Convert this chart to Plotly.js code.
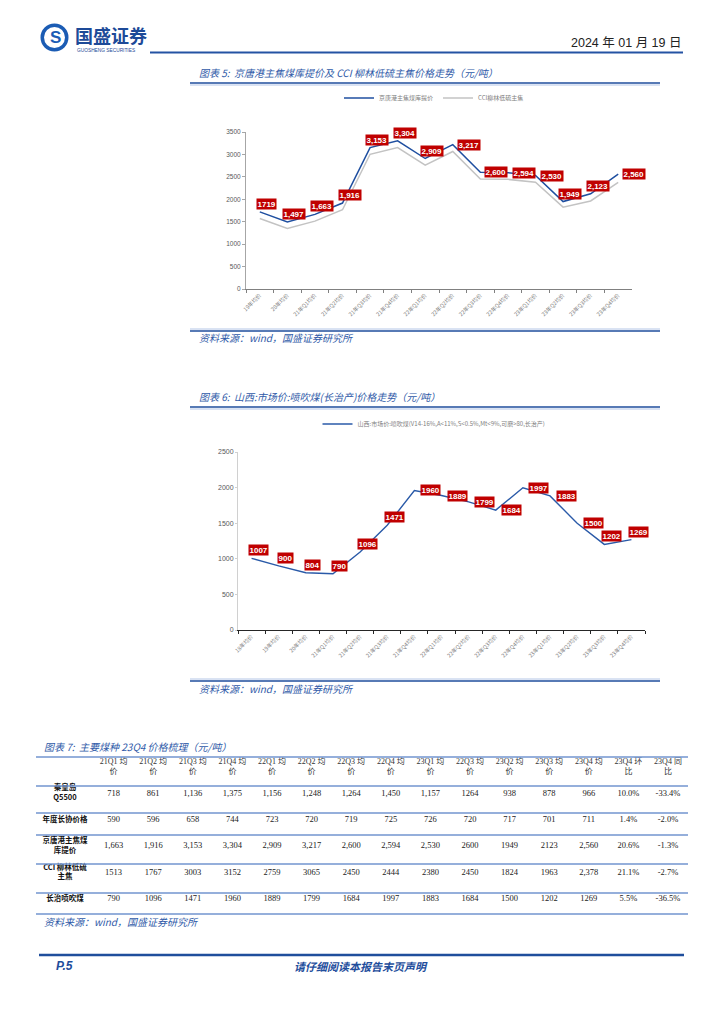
<!DOCTYPE html>
<html><head><meta charset="utf-8">
<script src="https://cdn.plot.ly/plotly-3.0.1.min.js"></script>
<style>html,body{margin:0;padding:0;background:#fff;}#page{width:724px;height:1024px;}</style>
</head><body><div id="page"></div>
<script>
// ---------- Chart 5 data ----------
const cats1 = ['19年均价','20年均价','21年Q1均价','21年Q2均价','21年Q3均价','21年Q4均价','22年Q1均价','22年Q2均价','22年Q3均价','22年Q4均价','23年Q1均价','23年Q2均价','23年Q3均价','23年Q4均价'];
const jingtang = [1719,1497,1663,1916,3153,3304,2909,3217,2600,2594,2530,1949,2123,2560];
const cciLiulin = [1570,1350,1513,1767,3003,3152,2759,3065,2450,2444,2380,1824,1963,2378];
const labelSide1 = ['a','a','a','a','a','a','a','r','r','r','r','a','a','r'];

// ---------- Chart 6 data ----------
const cats2 = ['18年均价','19年均价','20年均价','21年Q1均价','21年Q2均价','21年Q3均价','21年Q4均价','22年Q1均价','22年Q2均价','22年Q3均价','22年Q4均价','23年Q1均价','23年Q2均价','23年Q3均价','23年Q4均价'];
const changzhi = [1007,900,804,790,1096,1471,1960,1889,1799,1684,1997,1883,1500,1202,1269];
const labelSide2 = ['a','a','a','a','a','a','r','r','r','r','r','r','r','a','a'];

// ---------- Table 7 data ----------
const tableHeader = ['21Q1 均<br>价','21Q2 均<br>价','21Q3 均<br>价','21Q4 均<br>价','22Q1 均<br>价','22Q2 均<br>价','22Q3 均<br>价','22Q4 均<br>价','23Q1 均<br>价','22Q3 均<br>价','23Q2 均<br>价','23Q3 均<br>价','23Q4 均<br>价','23Q4 环<br>比','23Q4 同<br>比'];
const rowNames = ['秦皇岛<br>Q5500','年度长协价格','京唐港主焦煤<br>库提价','CCI 柳林低硫<br>主焦','长治喷吹煤'];
const rowQ5500 = ['718','861','1,136','1,375','1,156','1,248','1,264','1,450','1,157','1264','938','878','966','10.0%','-33.4%'];
const rowLongTerm = ['590','596','658','744','723','720','719','725','726','720','717','701','711','1.4%','-2.0%'];
const rowJingtang = ['1,663','1,916','3,153','3,304','2,909','3,217','2,600','2,594','2,530','2600','1949','2123','2,560','20.6%','-1.3%'];
const rowCCI = ['1513','1767','3003','3152','2759','3065','2450','2444','2380','2450','1824','1963','2,378','21.1%','-2.7%'];
const rowChangzhi = ['790','1096','1471','1960','1889','1799','1684','1997','1883','1684','1500','1202','1269','5.5%','-36.5%'];
const tableRows = [rowQ5500,rowLongTerm,rowJingtang,rowCCI,rowChangzhi];

// ---------- helpers ----------
const W = 724, H = 1024;
const px = x => x / W;
const py = y => 1 - y / H;
const CJK = '"Noto Sans CJK SC", "Liberation Sans", sans-serif';
const SERIF = '"Liberation Serif", "Noto Sans CJK SC", serif';
const BLUE = '#2453a3';
const TBLUE = '#2f5aa8';

const traces = [];
traces.push({x: cats1, y: jingtang, type:'scatter', mode:'lines', name:'京唐港主焦煤库提价',
  line:{color:'#1f4fa0', width:1.5}, xaxis:'x', yaxis:'y', hoverinfo:'skip'});
traces.push({x: cats1, y: cciLiulin, type:'scatter', mode:'lines', name:'CCI柳林低硫主焦',
  line:{color:'#c3c3c3', width:1.5}, xaxis:'x', yaxis:'y', hoverinfo:'skip'});
traces.push({x: cats2, y: changzhi, type:'scatter', mode:'lines',
  name:'山西:市场价:喷吹煤(V14-16%,A&lt;11%,S&lt;0.5%,Mt&lt;9%,可磨&gt;80,长治产)',
  line:{color:'#2a5aa8', width:1.4}, xaxis:'x2', yaxis:'y2', legend:'legend2', hoverinfo:'skip'});

// table cells via a hidden numeric axis pair
const colW = 39.6, col0 = 113.6, rowH = 26.4, row0 = 767;
const labelCol = (65 - col0) / colW;
const hx = [], hy = [], ht = [];
tableHeader.forEach((t,i)=>{hx.push(i); hy.push(0); ht.push(t);});
traces.push({x:hx, y:hy, text:ht, type:'scatter', mode:'text', xaxis:'x3', yaxis:'y3', showlegend:false,
  cliponaxis:false, hoverinfo:'skip', textfont:{family:SERIF, size:8, color:'#333'}});
const cx = [], cy = [], ct = [];
tableRows.forEach((row,r)=>row.forEach((v,i)=>{cx.push(i); cy.push(r+1); ct.push(v);}));
traces.push({x:cx, y:cy, text:ct, type:'scatter', mode:'text', xaxis:'x3', yaxis:'y3', showlegend:false,
  cliponaxis:false, hoverinfo:'skip', textfont:{family:SERIF, size:8.5, color:'#222'}});
traces.push({x:rowNames.map(()=>labelCol), y:rowNames.map((_,r)=>r+1), text:rowNames.map(n=>'<b>'+n+'</b>'),
  type:'scatter', mode:'text', xaxis:'x3', yaxis:'y3', showlegend:false, cliponaxis:false, hoverinfo:'skip',
  textfont:{family:CJK, size:7.5, color:'#111'}});

// ---------- annotations ----------
const ann = [];
function dataLabels(cats, vals, sides, xr, yr, fmt){
  vals.forEach((v,i)=>{
    const a = sides[i] === 'a';
    ann.push({xref:xr, yref:yr, x:cats[i], y:v, text:'<b>'+fmt(v,i)+'</b>', showarrow:false,
      bgcolor:'#c00000', borderpad:0.5, font:{family:'"Liberation Sans", Arial, sans-serif', size:8, color:'#fff'},
      xshift: a ? 7 : 16, yshift: a ? 8 : 0});
  });
}
dataLabels(cats1, jingtang, labelSide1, 'x', 'y', (v,i)=> i===0 ? String(v) : v.toLocaleString('en-US'));
dataLabels(cats2, changzhi, labelSide2, 'x2', 'y2', v=>String(v));

function txt(x, y, text, opts){
  ann.push(Object.assign({xref:'paper', yref:'paper', x:px(x), y:py(y), text:text, showarrow:false,
    xanchor:'left', yanchor:'middle'}, opts));
}
const titleFont = {family:CJK, size:10, color:TBLUE, style:'italic'};
// header
txt(73, 34.5, '<b>国盛证券</b>', {font:{family:CJK, size:18, color:'#1d4a98'}});
txt(75, 50, 'GUOSHENG SECURITIES', {font:{family:'"Liberation Sans", sans-serif', size:4.8, color:'#1d4a98'}});
txt(55, 37.5, '<b>S</b>', {xanchor:'center', font:{family:'"Liberation Sans", sans-serif', size:17, color:'#1b5cb4'}});
txt(683, 43, '2024 年 01 月 19 日', {xanchor:'right', font:{family:'"Liberation Sans", "Noto Sans CJK SC", sans-serif', size:12.5, color:'#222'}});
// chart titles & sources
txt(197, 72.5, '图表 5:  京唐港主焦煤库提价及 CCI 柳林低硫主焦价格走势（元/吨）', {font:titleFont});
txt(197, 337.5, '资料来源：wind，国盛证券研究所', {font:titleFont});
txt(197, 396, '图表 6:  山西:市场价:喷吹煤(长治产)价格走势（元/吨）', {font:titleFont});
txt(197, 688, '资料来源：wind，国盛证券研究所', {font:titleFont});
txt(42, 746, '图表 7:  主要煤种 23Q4 价格梳理（元/吨）', {font:titleFont});
txt(42, 921, '资料来源：wind，国盛证券研究所', {font:titleFont});
// footer
txt(54, 966, '<b>P.5</b>', {font:{family:'"Liberation Sans", sans-serif', size:12, color:'#1f4e9c', style:'italic'}});
txt(361, 966, '<b>请仔细阅读本报告末页声明</b>', {xanchor:'center', font:{family:CJK, size:11, color:'#1f4e9c', style:'italic'}});

// ---------- shapes ----------
const shapes = [];
function hline(x0, x1, y, color, width){
  shapes.push({type:'line', xref:'paper', yref:'paper', x0:px(x0), x1:px(x1), y0:py(y), y1:py(y), line:{color:color, width:width}});
}
function circle(cx_, cy_, r, fill){
  shapes.push({type:'circle', xref:'paper', yref:'paper', x0:px(cx_-r), x1:px(cx_+r), y0:py(cy_+r), y1:py(cy_-r),
    fillcolor:fill, line:{width:0}});
}
circle(54.5, 37.5, 14, '#1b5cb4');
circle(54.5, 37.5, 10.5, '#ffffff');
hline(150, 683, 52.5, BLUE, 2);
[[83, 190, 660], [407, 190, 660]].forEach(([y,a,b])=>{ hline(a,b,y,'#1f4e9c',1.6); hline(a,b,y+2,'#b4c6e7',1); });
[[331, 190, 660], [681, 190, 660]].forEach(([y,a,b])=>{ hline(a,b,y-2,'#b4c6e7',1); hline(a,b,y,'#1f4e9c',1.6); });
[757, 786, 813, 835, 864, 893, 914].forEach(y=>hline(36, 688, y, '#7295cf', 1.3));
hline(39, 684, 955, '#1f4e9c', 2.6);

const tickFont = {family:CJK, size:5.5, color:'#808080'};
const layout = {
  width:W, height:H, margin:{l:0, r:0, t:0, b:0}, paper_bgcolor:'#fff', plot_bgcolor:'rgba(0,0,0,0)',
  showlegend:true,
  legend:{orientation:'h', x:px(434), xanchor:'center', y:py(98), yanchor:'middle', itemwidth:30,
    font:{family:CJK, size:6, color:'#808080'}, bgcolor:'rgba(0,0,0,0)'},
  legend2:{orientation:'h', x:px(434), xanchor:'center', y:py(424), yanchor:'middle', itemwidth:30,
    font:{family:CJK, size:6, color:'#808080'}, bgcolor:'rgba(0,0,0,0)'},
  xaxis:{domain:[px(246), px(632)], anchor:'y', type:'category', range:[-0.5, cats1.length-0.5],
    tickson:'boundaries', ticks:'outside', ticklen:3, tickcolor:'#808080', showline:true, linecolor:'#808080', linewidth:1,
    tickangle:-45, tickfont:tickFont, showgrid:false, zeroline:false, fixedrange:true},
  yaxis:{domain:[py(289), py(132)], anchor:'x', range:[0, 3500], dtick:500, showline:true, linecolor:'#a6a6a6',
    ticks:'outside', ticklen:3, tickcolor:'#a6a6a6', tickfont:{family:'"Liberation Sans", sans-serif', size:6.5, color:'#595959'},
    showgrid:false, zeroline:false, fixedrange:true},
  xaxis2:{domain:[px(238), px(645)], anchor:'y2', type:'category', range:[-0.5, cats2.length-0.5],
    tickson:'boundaries', ticks:'outside', ticklen:3, tickcolor:'#262626', showline:true, linecolor:'#262626', linewidth:1.3,
    tickangle:-45, tickfont:tickFont, showgrid:false, zeroline:false, fixedrange:true},
  yaxis2:{domain:[py(630), py(452)], anchor:'x2', range:[0, 2500], dtick:500, showline:true, linecolor:'#d0d0d0',
    ticks:'outside', ticklen:2, tickcolor:'#d0d0d0', tickfont:{family:'"Liberation Sans", sans-serif', size:7, color:'#595959'},
    showgrid:false, zeroline:false, fixedrange:true},
  xaxis3:{domain:[0,1], anchor:'y3', range:[-col0/colW, (W-col0)/colW], visible:false, fixedrange:true},
  yaxis3:{domain:[0,1], anchor:'x3', range:[(H-row0)/rowH, -row0/rowH], visible:false, fixedrange:true},
  annotations:ann, shapes:shapes
};
Plotly.newPlot('page', traces, layout, {staticPlot:true, displayModeBar:false});
</script></body></html>
